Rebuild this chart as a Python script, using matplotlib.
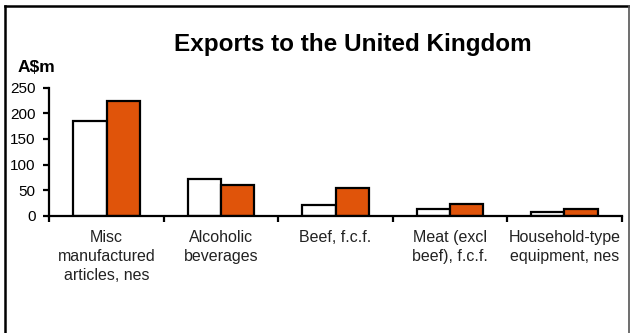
import matplotlib
matplotlib.use("Agg")
import matplotlib.pyplot as plt
from matplotlib.lines import Line2D
import numpy as np

plt.rcParams['font.family'] = ['Liberation Sans', 'DejaVu Sans']

categories = ["Misc\nmanufactured\narticles, nes", "Alcoholic\nbeverages", "Beef, f.c.f.",
              "Meat (excl\nbeef), f.c.f.", "Household-type\nequipment, nes"]
series_white = [185, 72, 21, 14, 8]
series_orange = [224, 60, 54, 22, 13]
yticks = [0, 50, 100, 150, 200, 250]

W, H = 630, 333
fig = plt.figure(figsize=(6.3, 3.33), dpi=100)
ax = fig.add_axes([49.3 / W, 1 - 215.7 / H, (621.7 - 49.3) / W, (215.7 - 87.7) / H])

x = np.arange(len(categories))
bw = 0.29
ax.bar(x - bw / 2, series_white, bw, color='white', edgecolor='black', linewidth=1.6, zorder=3)
ax.bar(x + bw / 2, series_orange, bw, color='#E0540A', edgecolor='black', linewidth=1.6, zorder=3)

ax.set_xlim(-0.5, len(categories) - 0.5)
ax.set_ylim(0, 250)
ax.set_yticks(yticks)
ax.set_yticklabels([str(v) for v in yticks], fontsize=11)
ax.set_xticks(np.arange(len(categories) + 1) - 0.5)
ax.set_xticklabels([])
ax.set_xticks(x, minor=True)
ax.set_xticklabels(categories, minor=True, fontsize=11.5, color='#222222', linespacing=1.32)
ax.tick_params(axis='x', which='minor', length=0, pad=10.5)
ax.tick_params(axis='x', which='major', length=4, width=1.6, direction='out')
ax.tick_params(axis='y', length=4, width=1.6, direction='out', pad=6)

for s in ['top', 'right']:
    ax.spines[s].set_visible(False)
ax.spines['left'].set_linewidth(1.6)
ax.spines['bottom'].set_linewidth(1.6)
ax.spines['left'].set_zorder(4)
ax.spines['bottom'].set_zorder(4)

fig.text(353 / W, 1 - 50.5 / H, "Exports to the United Kingdom", ha='center', va='baseline',
         fontsize=17.5, fontweight='bold')
fig.text(18 / W, 1 - 71.5 / H, "A$m", ha='left', va='baseline', fontsize=12.5, fontweight='bold')

# frame
fig.add_artist(Line2D([5 / W, 5 / W], [0, 1 - 6 / H], color='black', linewidth=1.8, transform=fig.transFigure))
fig.add_artist(Line2D([5 / W, 629 / W], [1 - 6 / H, 1 - 6 / H], color='black', linewidth=1.8, transform=fig.transFigure))
fig.add_artist(Line2D([629 / W, 629 / W], [0, 1 - 6 / H], color='#555555', linewidth=1.2, transform=fig.transFigure))

fig.savefig("out.png", dpi=100)
